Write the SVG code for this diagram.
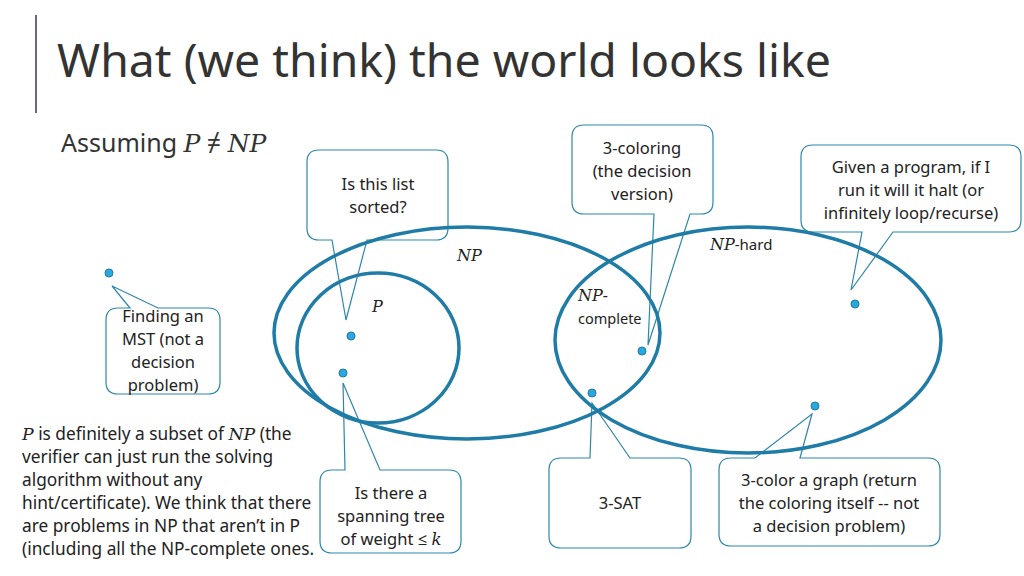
<svg xmlns="http://www.w3.org/2000/svg" width="1024" height="576" viewBox="0 0 1024 576">
<style>
text{font-family:"Noto Sans","Open Sans",sans-serif;fill:#222}
.set{fill:none;stroke:#1f7ca6;stroke-width:3.5}
.co{fill:none;stroke:#2e86ab;stroke-width:1.2}
.dot{fill:#29a8e0;stroke:#1f7ca6;stroke-width:1}
.c{font-size:16.5px;text-anchor:middle}
.m{font-family:"DejaVu Serif","Liberation Serif",serif;font-style:italic}
.p{font-size:17.3px}
</style>
<rect width="1024" height="576" fill="#fff"/>
<line x1="36" y1="15" x2="36" y2="113" stroke="#6b6589" stroke-width="2"/>
<text x="57" y="77" font-size="46.4" style="fill:#333">What (we think) the world looks like</text>
<text x="61" y="152" font-size="25" style="fill:#333">Assuming <tspan class="m">P</tspan> ≠ <tspan class="m">NP</tspan></text>
<g id="c1"><path class="co" d="M319,150 H436 Q448,150 448,162 V228 Q448,240 436,240 H367 L346,320 L332,240 H319 Q307,240 307,228 V162 Q307,150 319,150 Z"/>
<text class="c" x="378" y="190">Is this list</text><text class="c" x="378" y="213">sorted?</text></g>
<g id="c2"><path class="co" d="M584,125 H701 Q713,125 713,137 V202 Q713,214 701,214 H690 L648,345 L654,214 H584 Q572,214 572,202 V137 Q572,125 584,125 Z"/>
<text class="c" x="642" y="154">3-coloring</text><text class="c" x="642" y="177">(the decision</text><text class="c" x="642" y="200">version)</text></g>
<g id="c3"><path class="co" d="M813,145 H1009 Q1021,145 1021,157 V220 Q1021,232 1009,232 H893 L851,290 L862,232 H813 Q801,232 801,220 V157 Q801,145 813,145 Z"/>
<text class="c" x="911" y="173">Given a program, if I</text><text class="c" x="911" y="196">run it will it halt (or</text><text class="c" x="911" y="219">infinitely loop/recurse)</text></g>
<g id="c4"><path class="co" d="M118,308 H130 L112,286 L158,308 H208 Q220,308 220,320 V382 Q220,394 208,394 H118 Q106,394 106,382 V320 Q106,308 118,308 Z"/>
<text class="c" x="163" y="322">Finding an</text><text class="c" x="163" y="345">MST (not a</text><text class="c" x="163" y="368">decision</text><text class="c" x="163" y="391">problem)</text></g>
<g id="c5"><path class="co" d="M332,470 H345 L343,383 L380,470 H449 Q461,470 461,482 V541 Q461,553 449,553 H332 Q320,553 320,541 V482 Q320,470 332,470 Z"/>
<text class="c" x="391" y="499">Is there a</text><text class="c" x="391" y="522">spanning tree</text><text class="c" x="391" y="545">of weight <tspan>≤</tspan> <tspan class="m">k</tspan></text></g>
<g id="c6"><path class="co" d="M561,458 H590 L592,403 L630,458 H679 Q691,458 691,470 V536 Q691,548 679,548 H561 Q549,548 549,536 V470 Q549,458 561,458 Z"/>
<text class="c" x="620" y="509">3-SAT</text></g>
<g id="c7"><path class="co" d="M731,458 H755 L812,414 L800,458 H928 Q940,458 940,470 V534 Q940,546 928,546 H731 Q719,546 719,534 V470 Q719,458 731,458 Z"/>
<text class="c" x="829" y="486" font-size="17">3-color a graph (return</text><text class="c" x="829" y="509">the coloring itself -- not</text><text class="c" x="829" y="532">a decision problem)</text></g>
<g id="sets">
<ellipse class="set" cx="467" cy="333" rx="193" ry="106"/>
<ellipse class="set" cx="378" cy="348" rx="81" ry="75"/>
<ellipse class="set" cx="748" cy="340" rx="193" ry="113"/>
<text x="457" y="261" font-size="16" class="m">NP</text>
<text x="372" y="312" font-size="16" class="m">P</text>
<text x="578" y="301" font-size="16"><tspan class="m">NP</tspan>-</text>
<text x="578" y="324" font-size="14.5">complete</text>
<text x="710" y="250" font-size="15"><tspan class="m" font-size="16">NP</tspan>-hard</text>
</g>
<g id="dots">
<circle class="dot" cx="109" cy="273" r="4"/>
<circle class="dot" cx="351" cy="336" r="4"/>
<circle class="dot" cx="343" cy="373" r="4"/>
<circle class="dot" cx="642" cy="351" r="4"/>
<circle class="dot" cx="592" cy="393" r="4"/>
<circle class="dot" cx="855" cy="304" r="4"/>
<circle class="dot" cx="815" cy="406" r="4"/>
</g>
<g id="note">
<text class="p" x="22" y="440"><tspan class="m">P</tspan> is definitely a subset of <tspan class="m">NP</tspan> (the</text>
<text class="p" x="22" y="463">verifier can just run the solving</text>
<text class="p" x="22" y="486">algorithm without any</text>
<text class="p" x="22" y="509">hint/certificate). We think that there</text>
<text class="p" x="22" y="532">are problems in NP that aren’t in P</text>
<text class="p" x="22" y="555">(including all the NP-complete ones.</text>
</g>
</svg>
